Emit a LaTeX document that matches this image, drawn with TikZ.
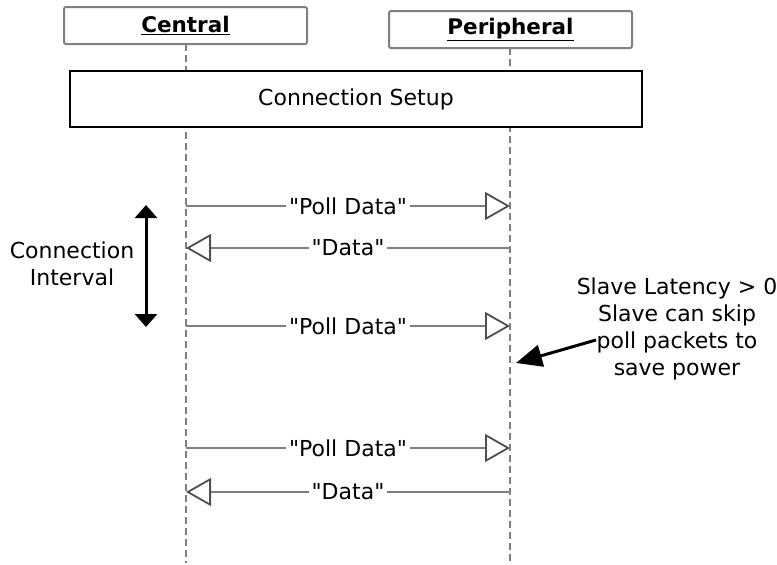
\documentclass[tikz,border=0pt]{standalone}
\usepackage{fontspec}
\setmainfont{DejaVu Sans}
\usetikzlibrary{arrows.meta, positioning, calc}
\definecolor{lifegray}{HTML}{808080}
\definecolor{tipgray}{HTML}{505050}
\newcommand{\quoted}[1]{\textquotedbl#1\textquotedbl}

\begin{document}
\begin{tikzpicture}[x=1pt, y=-1pt,
	every node/.style = {font=\fontsize{22}{27}\selectfont, align=center},
	actor/.style = {draw=lifegray, line width=2pt, rounded corners=2pt, fill=white,
		minimum width=243pt, minimum height=37pt, inner sep=0pt,
		font=\fontsize{21.5}{27}\selectfont\bfseries},
	setupbox/.style = {draw=black, line width=1.5pt, fill=white,
		minimum width=572pt, minimum height=56pt, inner sep=0pt},
	lifeline/.style = {draw=lifegray, line width=2.2pt, dash pattern=on 7pt off 4pt},
	msg/.style = {draw=lifegray, line width=2.4pt,
		-{Triangle[open, length=25pt, width=28pt, line width=1.8pt, color=tipgray, fill=white]}},
	msglabel/.style = {fill=white, inner sep=3pt, text=black},
	bigarrow/.style = {draw=black, line width=3pt}]
\useasboundingbox (0,0) rectangle (777,565);

% lifelines first, boxes cover them
\coordinate (cend) at (186,563);
\coordinate (pend) at (510,563);
\draw[lifeline] (186,44) -- (cend);
\draw[lifeline] (510,48) -- (pend);

\node[actor] (central) at (185.5,25.5) {\underline{Central}};
\node[actor] (peripheral) at (510.5,29.5) {\underline{Peripheral}};
\node[setupbox] (setup) at (356,99) {Connection Setup};

% messages
\foreach \y/\n in {206/1, 248/2, 326/3, 448/4, 492/5} {
	\coordinate (c\n) at (186,\y);
	\coordinate (p\n) at (510,\y);
}
\draw[msg] (c1) -- node[msglabel] {\quoted{Poll Data}} (p1);
\draw[msg] (p2) -- node[msglabel] {\quoted{Data}} (c2);
\draw[msg] (c3) -- node[msglabel] {\quoted{Poll Data}} (p3);
\draw[msg] (c4) -- node[msglabel] {\quoted{Poll Data}} (p4);
\draw[msg] (p5) -- node[msglabel] {\quoted{Data}} (c5);

% connection interval
\coordinate (citop) at (146,205);
\coordinate (cibot) at (146,327);
\draw[bigarrow, {Triangle[length=13pt, width=22pt]}-{Triangle[length=13pt, width=22pt]}] (citop) -- (cibot);
\node[anchor=north, inner sep=0pt] (interval) at (72,241.5) {Connection\\Interval};

% slave latency note
\node[anchor=north, inner sep=0pt] (latency) at (677,278) {Slave Latency > 0\\Slave can skip\\poll packets to\\save power};
\coordinate (notefrom) at (596,340);
\coordinate (noteto) at (516,363);
\draw[bigarrow, -{Triangle[length=26pt, width=22pt]}] (notefrom) -- (noteto);
\end{tikzpicture}
\end{document}
